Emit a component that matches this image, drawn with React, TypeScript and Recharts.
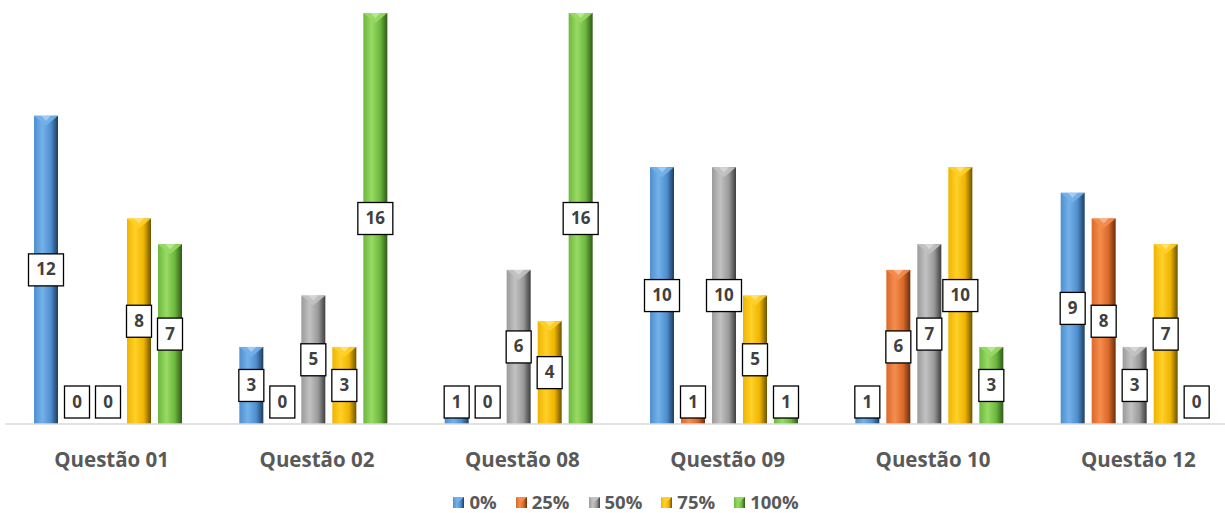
import React from 'react'
import { BarChart, Bar, XAxis, YAxis, LabelList, Legend } from 'recharts'

const categories = ['Questão 01', 'Questão 02', 'Questão 08', 'Questão 09', 'Questão 10', 'Questão 12']
const seriesNames = ['0%', '25%', '50%', '75%', '100%']
const pct0 = [12, 3, 1, 10, 1, 9]
const pct25 = [0, 0, 0, 1, 6, 8]
const pct50 = [0, 5, 6, 10, 7, 3]
const pct75 = [8, 3, 4, 5, 10, 7]
const pct100 = [7, 16, 16, 1, 3, 0]

const seriesValues = [pct0, pct25, pct50, pct75, pct100]
const keys = ['s0', 's25', 's50', 's75', 's100']

// base, light highlight, dark edge
const palette = [
  ['#4f8fcf', '#74b1ea', '#1d3c5e'],
  ['#d9692a', '#f58d4e', '#6b2e0c'],
  ['#9a9a9a', '#c2c2c2', '#3e3e3e'],
  ['#efb400', '#ffd029', '#6e5300'],
  ['#6cb83f', '#98da64', '#2f5a17'],
]

const data = categories.map((name, i) => {
  const row: Record<string, string | number> = { name }
  keys.forEach((k, s) => {
    row[k] = seriesValues[s][i]
  })
  return row
})

const FONT = '"Open Sans", sans-serif'

function BevelBar(props: any) {
  const { x, y, width, height, idx } = props
  if (!height || height <= 0) return null
  const tip = Math.min(10, height / 2)
  return (
    <g>
      <rect x={x} y={y} width={width} height={height} fill={`url(#grad${idx})`} />
      <path
        d={`M${x},${y} L${x + width},${y} L${x + width / 2},${y + tip} Z`}
        fill={palette[idx][1]}
        opacity={0.9}
      />
      <path
        d={`M${x + width * 0.3},${y} L${x + width * 0.7},${y} L${x + width / 2},${y + tip * 0.5} Z`}
        fill="#ffffff"
        opacity={0.35}
      />
    </g>
  )
}

function ValueBox(props: any) {
  const { x, y, width, height, value } = props
  const base = y + height
  const cx = x + width / 2
  const cy = Math.min(y + height / 2, base - 22)
  const w = String(value).length > 1 ? 35 : 25
  const h = 32
  return (
    <g>
      <rect x={cx - w / 2} y={cy - h / 2} width={w} height={h} fill="#ffffff" stroke="#000000" strokeWidth={1.3} />
      <text
        x={cx}
        y={cy + 1}
        textAnchor="middle"
        dominantBaseline="middle"
        fontFamily={FONT}
        fontWeight={700}
        fontSize={17}
        fill="#404040"
      >
        {value}
      </text>
    </g>
  )
}

function LegendRow() {
  return (
    <div
      style={{
        display: 'flex',
        justifyContent: 'center',
        gap: 19,
        paddingTop: 16,
        paddingLeft: 10,
        fontFamily: FONT,
        fontWeight: 700,
        fontSize: 18.5,
        color: '#595959',
        lineHeight: '20px',
      }}
    >
      {seriesNames.map((n, i) => (
        <span key={n} style={{ display: 'flex', alignItems: 'center', gap: 5 }}>
          <svg width={11} height={11}>
            <rect x={0} y={0} width={11} height={11} fill={`url(#grad${i})`} />
            <path d="M0,0 L11,0 L5.5,5 Z" fill={palette[i][1]} />
          </svg>
          {n}
        </span>
      ))}
    </div>
  )
}

export default function App() {
  return (
    <div style={{ position: 'absolute', left: 0, top: 0, width: 1225, height: 513, overflow: 'hidden', background: '#ffffff' }}>
      <BarChart
        width={1237}
        height={513}
        data={data}
        margin={{ top: 13, right: 0, left: 5, bottom: 0 }}
        barSize={24}
        barGap={7}
      >
        <defs>
          {palette.map((c, i) => (
            <linearGradient key={i} id={`grad${i}`} x1="0" y1="0" x2="1" y2="0">
              <stop offset="0%" stopColor={c[0]} />
              <stop offset="35%" stopColor={c[1]} />
              <stop offset="70%" stopColor={c[0]} />
              <stop offset="100%" stopColor={c[2]} />
            </linearGradient>
          ))}
        </defs>
        <YAxis hide domain={[0, 16]} />
        <XAxis
          dataKey="name"
          height={52}
          tickLine={false}
          axisLine={{ stroke: '#d9d9d9', strokeWidth: 1.5 }}
          tick={{ fontFamily: FONT, fontWeight: 700, fontSize: 20.5, fill: '#595959', dy: 20, dx: 4 }}
          interval={0}
        />
        <Legend verticalAlign="bottom" height={37} content={() => <LegendRow />} />
        {keys.map((k, i) => (
          <Bar
            key={k}
            dataKey={k}
            name={seriesNames[i]}
            fill={palette[i][0]}
            isAnimationActive={false}
            shape={(p: any) => <BevelBar {...p} idx={i} />}
          >
            <LabelList dataKey={k} content={(p: any) => <ValueBox {...p} />} />
          </Bar>
        ))}
      </BarChart>
    </div>
  )
}
